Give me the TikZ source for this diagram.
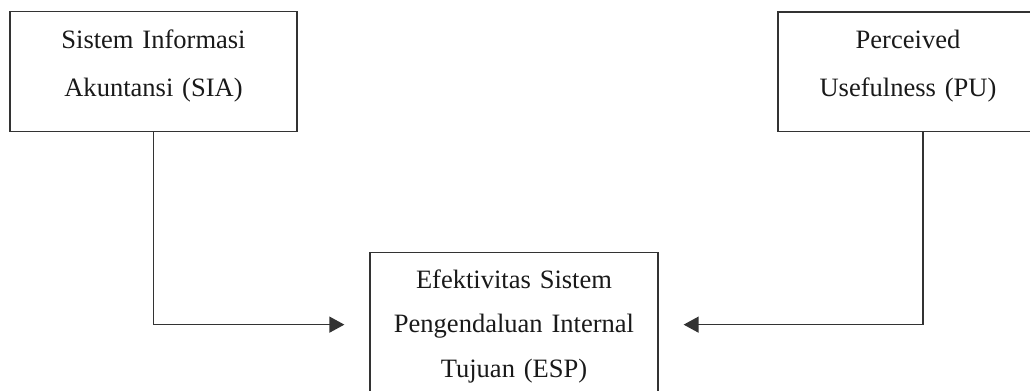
\documentclass[tikz,border=0pt]{standalone}
\usepackage{fontspec}
\setmainfont{Liberation Serif}
\usetikzlibrary{arrows.meta}

\begin{document}
\begin{tikzpicture}[x=0.02cm,y=-0.02cm,>={Triangle[length=0.3cm,width=0.32cm]},
    var box/.style={rectangle,draw=black!80,line width=0.75pt,align=center,
      inner sep=0pt,text=black!90,font=\fontsize{15.1pt}{27.3pt}\selectfont},
    link/.style={->,draw=black!80,line width=0.75pt,shorten >=0.5cm}]
    \useasboundingbox (0,0) rectangle (1030,391);
    \clip (0,0) rectangle (1030,391);
    \node[var box,anchor=north,text width=5.74cm,text height=0.73cm,text depth=1.67cm]
      (sia) at (153.5,11) {Sistem Informasi\\Akuntansi (SIA)};
    \node[var box,anchor=north,text width=5.2cm,text height=0.73cm,text depth=1.66cm]
      (pu) at (908,11.5) {Perceived\\Usefulness (PU)};
    \node[var box,anchor=north,text width=5.76cm,text height=0.714cm,text depth=2.166cm,
      font=\fontsize{15.1pt}{25.3pt}\selectfont]
      (esp) at (514,252) {Efektivitas Sistem\\Pengendaluan Internal\\Tujuan (ESP)};
    \draw[link] (sia.south) |- (esp.west);
    \draw[link] ([xshift=0.3cm]pu.south) |- (esp.east);
\end{tikzpicture}
\end{document}
